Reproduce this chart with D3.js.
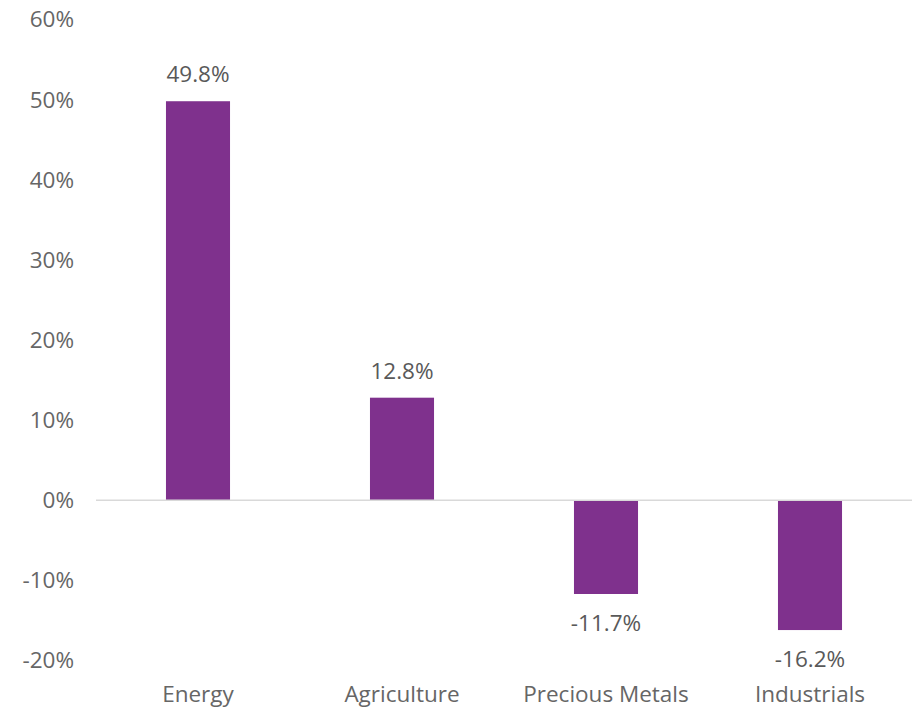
<!DOCTYPE html>
<html>
<head>
<meta charset="utf-8">
<script src="https://cdn.jsdelivr.net/npm/d3@7"></script>
<style>
    body { margin: 0; background: #fff; }
    text { font-family: "Open Sans", "Noto Sans", sans-serif; }
</style>
</head>
<body>
<div id="chart"></div>
<script>
// data
var categories = ["Energy", "Agriculture", "Precious Metals", "Industrials"];
var values = [49.8, 12.8, -11.7, -16.2];
var yTicks = [-20, -10, 0, 10, 20, 30, 40, 50, 60];

const WIDTH = 916;
const HEIGHT = 709;
const LEFT = 96, RIGHT = 912, TOP = 19.5, BOTTOM = 660.5;
const FONT = 22.5;

var svg = d3.select("#chart")
    .append("svg")
        .attr("width", WIDTH)
        .attr("height", HEIGHT);

var x = d3.scaleBand()
    .domain(categories)
    .range([LEFT, RIGHT])
    .paddingInner(0.686)
    .paddingOuter(0.343);

var y = d3.scaleLinear()
    .domain([-20, 60])
    .range([BOTTOM, TOP]);

// y tick labels
svg.append("g")
    .selectAll("text")
    .data(yTicks)
    .enter()
    .append("text")
        .attr("x", 74)
        .attr("y", function (d) { return y(d); })
        .attr("dy", "0.35em")
        .attr("text-anchor", "end")
        .attr("fill", "#666666")
        .attr("font-size", FONT)
        .text(function (d) { return d + "%"; });

// bars
svg.append("g")
    .selectAll("rect")
    .data(values)
    .enter()
    .append("rect")
        .attr("x", function (d, i) { return x(categories[i]); })
        .attr("y", function (d) { return y(Math.max(0, d)); })
        .attr("width", x.bandwidth())
        .attr("height", function (d) { return Math.abs(y(d) - y(0)); })
        .attr("fill", "#7f318d");

// zero line
svg.append("line")
    .attr("x1", LEFT)
    .attr("x2", RIGHT)
    .attr("y1", y(0))
    .attr("y2", y(0))
    .attr("stroke", "#d9d9d9")
    .attr("stroke-width", 1.5);

// value labels
svg.append("g")
    .selectAll("text")
    .data(values)
    .enter()
    .append("text")
        .attr("x", function (d, i) { return x(categories[i]) + x.bandwidth() / 2; })
        .attr("y", function (d) { return d >= 0 ? y(d) - 27 : y(d) + 29; })
        .attr("dy", "0.35em")
        .attr("text-anchor", "middle")
        .attr("fill", "#595959")
        .attr("font-size", FONT)
        .text(function (d) { return d.toFixed(1) + "%"; });

// category labels
svg.append("g")
    .selectAll("text")
    .data(categories)
    .enter()
    .append("text")
        .attr("x", function (d) { return x(d) + x.bandwidth() / 2; })
        .attr("y", 694)
        .attr("dy", "0.35em")
        .attr("text-anchor", "middle")
        .attr("fill", "#666666")
        .attr("font-size", FONT)
        .text(function (d) { return d; });
</script>
</body>
</html>
